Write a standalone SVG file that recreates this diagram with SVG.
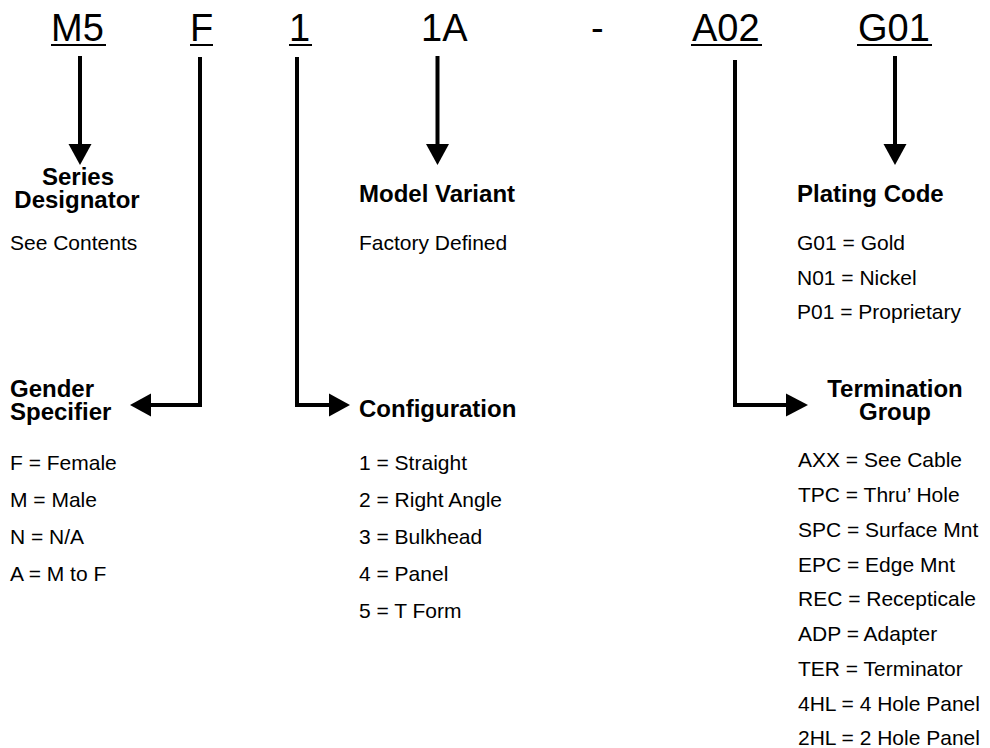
<svg xmlns="http://www.w3.org/2000/svg" width="990" height="748" viewBox="0 0 990 748">
<style>
.code{font-family:"Liberation Sans",Arial,sans-serif;font-size:38px;fill:#000}
.t{font-family:"Liberation Sans",Arial,sans-serif;font-size:24px;font-weight:bold;fill:#000}
.r{font-family:"Liberation Sans",Arial,sans-serif;font-size:21px;fill:#000}
.ln{stroke:#000;stroke-width:4;fill:none}
.hd{fill:#000}
</style>
<rect width="990" height="748" fill="#fff"/>
<g id="code">
<text class="code" x="51" y="41">M5</text>
<text class="code" x="190" y="41">F</text>
<text class="code" x="289" y="41">1</text>
<text class="code" x="421" y="41">1A</text>
<text class="code" x="591" y="41">-</text>
<text class="code" x="692" y="41">A02</text>
<text class="code" x="858" y="41">G01</text>
<g stroke="#000" stroke-width="2">
<line x1="51" y1="45" x2="106" y2="45"/>
<line x1="190" y1="45" x2="213" y2="45"/>
<line x1="289" y1="45" x2="312" y2="45"/>
<line x1="691" y1="45" x2="762" y2="45"/>
<line x1="857" y1="45" x2="932" y2="45"/>
</g>
</g>
<g id="connectors">
<line class="ln" x1="80" y1="56" x2="80" y2="146"/>
<polygon class="hd" points="68.5,144 91.5,144 80,165"/>
<line class="ln" x1="437.5" y1="56" x2="437.5" y2="146"/>
<polygon class="hd" points="426,144 449,144 437.5,165"/>
<line class="ln" x1="895" y1="56" x2="895" y2="146"/>
<polygon class="hd" points="883.5,144 906.5,144 895,165"/>
<polyline class="ln" points="200,57 200,405 148,405"/>
<polygon class="hd" points="151,393.5 151,416.5 130,405"/>
<polyline class="ln" points="297,57 297,405 332,405"/>
<polygon class="hd" points="329,393.5 329,416.5 350,405"/>
<polyline class="ln" points="735,60 735,405 789,405"/>
<polygon class="hd" points="786,393.5 786,416.5 808,405"/>
</g>
<g id="series">
<text class="t" x="78" y="185" text-anchor="middle">Series</text>
<text class="t" x="77" y="208" text-anchor="middle">Designator</text>
<text class="r" x="10" y="250">See Contents</text>
</g>
<g id="model">
<text class="t" x="359" y="202">Model Variant</text>
<text class="r" x="359" y="250">Factory Defined</text>
</g>
<g id="plating">
<text class="t" x="797" y="202">Plating Code</text>
<text class="r" x="797" y="250">G01 = Gold</text>
<text class="r" x="797" y="285">N01 = Nickel</text>
<text class="r" x="797" y="319">P01 = Proprietary</text>
</g>
<g id="gender">
<text class="t" x="10" y="397">Gender</text>
<text class="t" x="10" y="420">Specifier</text>
<text class="r" x="10" y="470">F = Female</text>
<text class="r" x="10" y="507">M = Male</text>
<text class="r" x="10" y="544">N = N/A</text>
<text class="r" x="10" y="581">A = M to F</text>
</g>
<g id="configuration">
<text class="t" x="359" y="417">Configuration</text>
<text class="r" x="359" y="470">1 = Straight</text>
<text class="r" x="359" y="507">2 = Right Angle</text>
<text class="r" x="359" y="544">3 = Bulkhead</text>
<text class="r" x="359" y="581">4 = Panel</text>
<text class="r" x="359" y="618">5 = T Form</text>
</g>
<g id="termination">
<text class="t" x="895" y="397" text-anchor="middle">Termination</text>
<text class="t" x="895" y="420" text-anchor="middle">Group</text>
<text class="r" x="798" y="467">AXX = See Cable</text>
<text class="r" x="798" y="502">TPC = Thru’ Hole</text>
<text class="r" x="798" y="537">SPC = Surface Mnt</text>
<text class="r" x="798" y="572">EPC = Edge Mnt</text>
<text class="r" x="798" y="606">REC = Recepticale</text>
<text class="r" x="798" y="641">ADP = Adapter</text>
<text class="r" x="798" y="676">TER = Terminator</text>
<text class="r" x="798" y="711">4HL = 4 Hole Panel</text>
<text class="r" x="798" y="745">2HL = 2 Hole Panel</text>
</g>
</svg>
